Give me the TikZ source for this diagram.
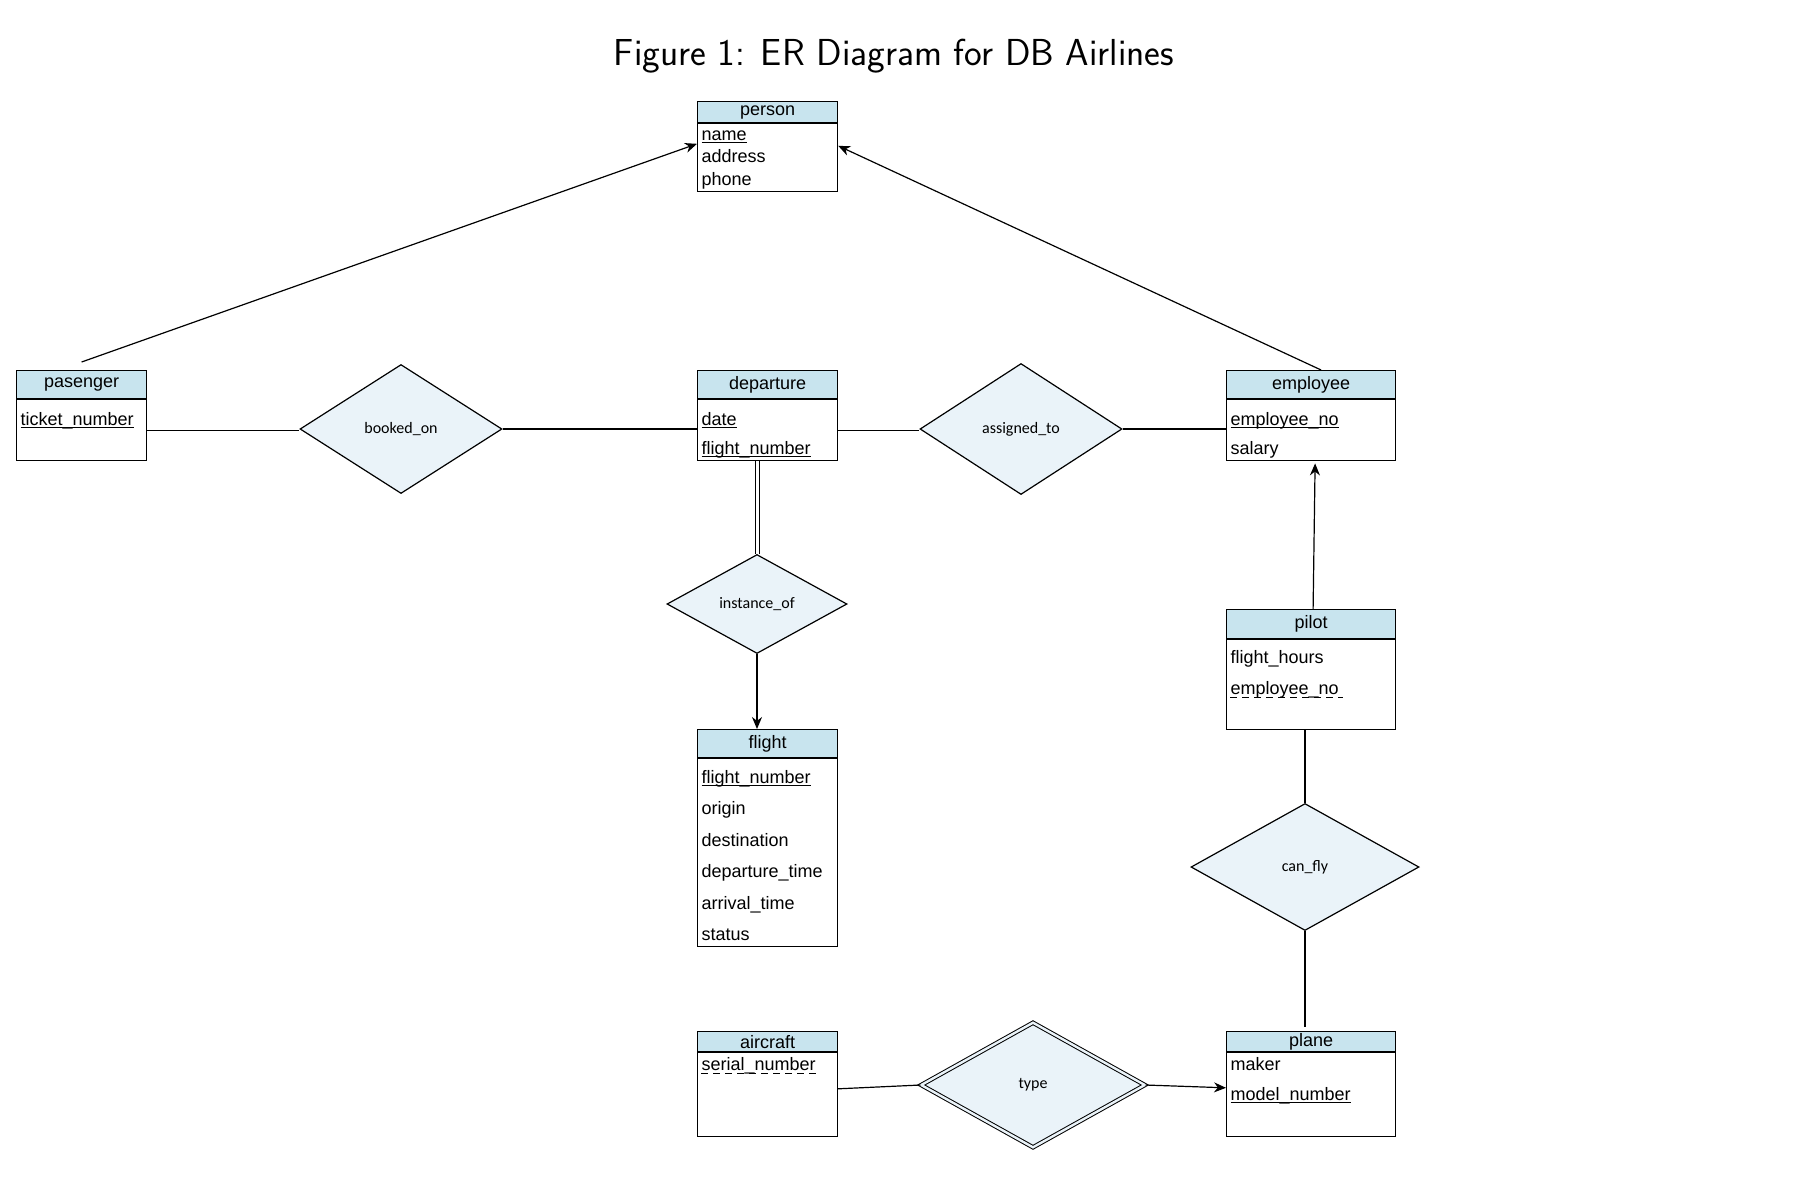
\documentclass[tikz,border=0pt]{standalone}
\usepackage{fontspec}
\usepackage{tikz}
\usetikzlibrary{shapes.geometric,arrows.meta}
\newfontfamily\boxfont{Liberation Sans}
\newfontfamily\relfont{Carlito}
\definecolor{hdrblue}{RGB}{200,228,238}
\definecolor{relblue}{RGB}{234,243,249}
\newcommand\keyline[1]{\setbox0\hbox{#1}\rlap{\rule[-1.4pt]{\wd0}{0.45pt}}#1}

\begin{document}
\begin{tikzpicture}[x=0.5pt, y=-0.5pt, line width=0.6pt,
    head/.style={draw, fill=hdrblue, anchor=north west, inner sep=0, font=\boxfont\fontsize{9}{11}\selectfont},
    body/.style={draw, anchor=north west, inner sep=0},
    attr/.style={anchor=base west, inner sep=0, font=\boxfont\fontsize{9}{11}\selectfont},
    rel/.style={diamond, draw, fill=relblue, inner sep=0, font=\relfont\fontsize{8}{10}\selectfont},
    weak/.style={dash pattern=on 3.5pt off 2.5pt, line width=0.45pt},
    arr/.style={-{Stealth[length=6pt,width=5pt]}}]
        \useasboundingbox (0,0) rectangle (1794,1180);
        \node[font=\sffamily\fontsize{18.8}{22}\selectfont] (title) at (894,56) {Figure 1: ER Diagram for DB Airlines};

        % entities
        \node[head, minimum width=70pt, minimum height=10.5pt] (person) at (697,101) {person};
        \node[body, minimum width=70pt, minimum height=34pt] (personb) at (person.south west) {};
        \node[attr] (pname) at (701,140) {\keyline{name}};
        \node[attr] (paddress) at (701,162) {address};
        \node[attr] (pphone) at (701,185) {phone};

        \node[head, minimum width=65pt, minimum height=14pt] (pasenger) at (16,370) {pasenger};
        \node[body, minimum width=65pt, minimum height=30.5pt] (pasengerb) at (pasenger.south west) {};
        \node[attr] (pticket) at (20,425) {\keyline{ticket\_number}};

        \node[head, minimum width=70pt, minimum height=14pt] (departure) at (697,370) {departure};
        \node[body, minimum width=70pt, minimum height=30.5pt] (departureb) at (departure.south west) {};
        \node[attr] (ddate) at (701,425) {\keyline{date}};
        \node[attr] (dflight) at (701,454) {\keyline{flight\_number}};

        \node[head, minimum width=84.5pt, minimum height=14pt] (employee) at (1226,370) {employee};
        \node[body, minimum width=84.5pt, minimum height=30.5pt] (employeeb) at (employee.south west) {};
        \node[attr] (eno) at (1230,425) {\keyline{employee\_no}};
        \node[attr] (esalary) at (1230,454) {salary};

        \node[head, minimum width=70pt, minimum height=14pt] (flight) at (697,729) {flight};
        \node[body, minimum width=70pt, minimum height=94pt] (flightb) at (flight.south west) {};
        \node[attr] (fnumber) at (701,783) {\keyline{flight\_number}};
        \node[attr] (forigin) at (701,814) {origin};
        \node[attr] (fdest) at (701,846) {destination};
        \node[attr] (fdep) at (701,877) {departure\_time};
        \node[attr] (farr) at (701,909) {arrival\_time};
        \node[attr] (fstatus) at (701,940) {status};

        \node[head, minimum width=84.5pt, minimum height=14.5pt] (pilot) at (1226,609) {pilot};
        \node[body, minimum width=84.5pt, minimum height=45pt] (pilotb) at (pilot.south west) {};
        \node[attr] (phours) at (1230,663) {flight\_hours};
        \node[attr] (pno) at (1230,694) {employee\_no};
        \draw[weak] ([yshift=-1.6pt]pno.base west) -- ([xshift=2pt,yshift=-1.6pt]pno.base east);

        \node[head, minimum width=70pt, minimum height=10pt] (aircraft) at (697,1031) {aircraft};
        \node[body, minimum width=70pt, minimum height=42pt] (aircraftb) at (aircraft.south west) {};
        \node[attr] (aserial) at (701,1070) {serial\_number};
        \draw[weak] ([yshift=-1.6pt]aserial.base west) -- ([xshift=2pt,yshift=-1.6pt]aserial.base east);

        \node[head, minimum width=84.5pt, minimum height=10pt] (plane) at (1226,1031) {plane};
        \node[body, minimum width=84.5pt, minimum height=42pt] (planeb) at (plane.south west) {};
        \node[attr] (pmaker) at (1230,1070) {maker};
        \node[attr] (pmodel) at (1230,1100) {\keyline{model\_number}};

        % relationships
        \node[rel, minimum width=101pt, minimum height=64.5pt] (bookedon) at (401,429) {booked\_on};
        \node[rel, minimum width=101pt, minimum height=65.5pt] (assignedto) at (1021,429) {assigned\_to};
        \node[rel, minimum width=90pt, minimum height=49.5pt] (instof) at (757,604) {instance\_of};
        \node[rel, minimum width=114pt, minimum height=63.5pt] (canfly) at (1305,867) {can\_fly};
        \node[rel, double=relblue, double distance=1.2pt, line width=0.5pt, minimum width=112pt, minimum height=62.5pt] (type) at (1033,1085) {type};

        % connectors
        \draw[arr] ([yshift=4pt]pasenger.north) -- ([yshift=7pt]personb.west);
        \draw[arr] ([xshift=5pt]employee.north) -- ([yshift=6pt]personb.east);
        \foreach \x/\y in {pasengerb/bookedon,departureb/assignedto}
          \draw (\x.east) -- (\x.east -| \y.west);
        \foreach \x/\y in {bookedon/departureb,assignedto/employeeb}
          \draw (\x.east) -- (\x.east -| \y.west);
        \draw[double, double distance=1.5pt, line width=0.5pt] (instof.north |- departureb.south) -- (instof.north);
        \draw[arr] (instof.south) -- (instof.south |- flight.north);
        \draw[arr] ([xshift=1pt]pilot.north) -- ([xshift=2pt,yshift=-1pt]employeeb.south);
        \draw (canfly.north |- pilotb.south) -- (canfly.north);
        \draw (canfly.south) -- ([yshift=2pt]canfly.south |- plane.north);
        \draw ([yshift=3pt]aircraftb.east) -- (type.west);
        \draw[arr] (type.east) -- ([yshift=3.5pt]planeb.west);
      \end{tikzpicture}
\end{document}
